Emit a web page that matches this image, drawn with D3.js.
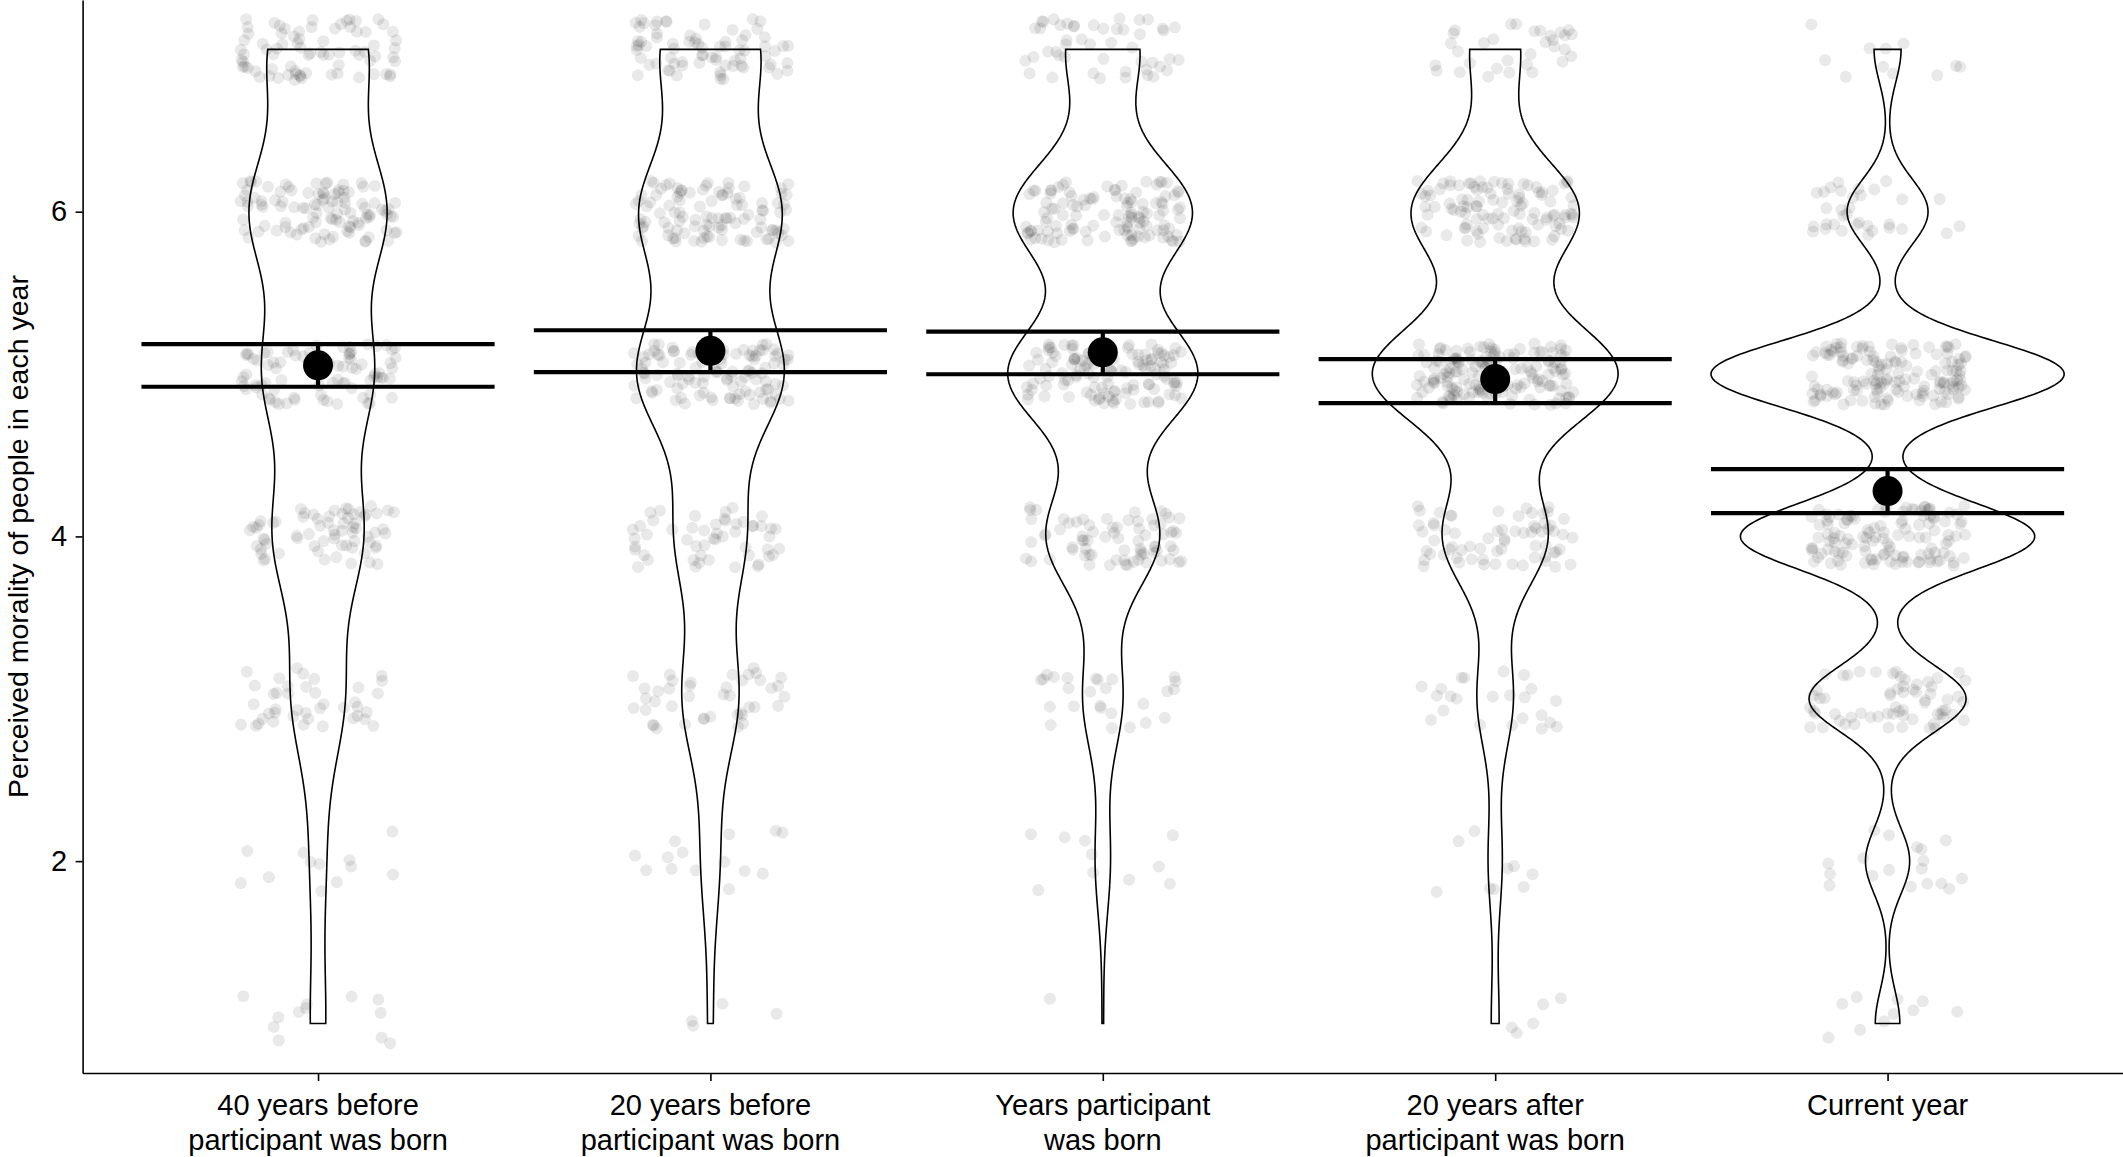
<!DOCTYPE html>
<html>
<head>
<meta charset="utf-8">
<script src="https://cdn.jsdelivr.net/npm/d3@7"></script>
<style>
  body { margin: 0; background: #fff; }
  svg { display: block; font-family: "Liberation Sans", Arial, Helvetica, sans-serif; }
</style>
</head>
<body>
<div id="chart"></div>
<script>
// x categories (label lines as printed under the axis)
var categories = ["40 years before", "20 years before", "Years participant", "20 years after", "Current year"];
var categoryLines = [
    ["40 years before", "participant was born"],
    ["20 years before", "participant was born"],
    ["Years participant", "was born"],
    ["20 years after", "participant was born"],
    ["Current year"]
];

var levels = [1, 2, 3, 4, 5, 6, 7];
var counts40Before = [12, 12, 41, 69, 84, 105, 77];
var counts20Before = [4, 14, 42, 52, 109, 105, 74];
var countsBorn     = [1, 10, 26, 74, 124, 117, 48];
var counts20After  = [5, 9, 23, 67, 157, 107, 32];
var countsCurrent  = [10, 18, 64, 120, 144, 33, 11];

// mean and interval drawn on top of each violin
var means  = [5.054, 5.143, 5.134, 4.969, 4.279];
var ciLow  = [4.922, 5.012, 4.999, 4.821, 4.143];
var ciHigh = [5.185, 5.270, 5.262, 5.092, 4.414];

var yTicks = [2, 4, 6];
var yTitle = "Perceived morality of people in each year";

var allCounts = [counts40Before, counts20Before, countsBorn, counts20After, countsCurrent];

var width = 2123, height = 1157;
var left = 82.6, bottom = 1073;

var svg = d3.select("#chart").append("svg")
    .attr("width", width)
    .attr("height", height);

var x = d3.scalePoint()
    .domain(categories)
    .range([left, width])
    .padding(0.6);
var step = x.step();

var y = d3.scaleLinear()
    .domain([0.695, 7.304])
    .range([bottom, 0]);

// expand counts back to single answers
function expand(counts) {
    var out = [];
    for (var i in counts) {
        for (var j = 0; j < counts[i]; j++) {
            out.push(levels[i]);
        }
    }
    return out;
}

// R bw.nrd0
function bwNrd0(values) {
    var sd = d3.deviation(values);
    var iqr = d3.quantile(values, 0.75) - d3.quantile(values, 0.25);
    var lo = Math.min(sd, iqr / 1.34);
    return 0.9 * lo * Math.pow(values.length, -0.2);
}

// gaussian kde on the data range (trimmed, like geom_violin)
function violinDensity(counts) {
    var values = expand(counts);
    var h = bwNrd0(values);
    var n = values.length;
    var lo = d3.min(values), hi = d3.max(values);
    var pts = [];
    for (var i = 0; i < 512; i++) {
        var v = lo + (hi - lo) * i / 511;
        var s = 0;
        for (var k in counts) {
            var z = (v - levels[k]) / h;
            s += counts[k] * Math.exp(-0.5 * z * z);
        }
        pts.push({v: v, d: s / (n * h * Math.sqrt(2 * Math.PI))});
    }
    return pts;
}

var densities = allCounts.map(violinDensity);
var maxDens = d3.max(densities, function(p){ return d3.max(p, function(d){ return d.d; }); });

// jittered answers (fixed seed so the dots stay put)
var rnd = d3.randomLcg(0.4217);
var jitterPts = [];
allCounts.forEach(function(counts, g){
    var vals = expand(counts);
    vals.forEach(function(v){
        jitterPts.push({
            cx: x(categories[g]) + (rnd() * 2 - 1) * 0.2 * step,
            v: v + (rnd() * 2 - 1) * 0.19
        });
    });
});

svg.append("g")
    .selectAll("circle")
    .data(jitterPts)
    .enter()
    .append("circle")
    .attr("cx", function(d){ return d.cx; })
    .attr("cy", function(d){ return y(d.v); })
    .attr("r", 5.8)
    .attr("fill", "#000")
    .attr("fill-opacity", 0.085)
    .attr("stroke", "#000")
    .attr("stroke-opacity", 0.04)
    .attr("stroke-width", 0.8);

// violins
var halfW = function(d){ return d.d / maxDens * 0.45 * step; };
densities.forEach(function(pts, g){
    var cx = x(categories[g]);
    var right = pts.map(function(d){ return [cx + halfW(d), y(d.v)]; });
    var leftSide = pts.slice().reverse().map(function(d){ return [cx - halfW(d), y(d.v)]; });
    svg.append("path")
        .attr("d", d3.line()(right.concat(leftSide)) + "Z")
        .attr("fill", "none")
        .attr("stroke", "#000")
        .attr("stroke-width", 1.6);
});

// error bars + means
var eb = svg.append("g");
categories.forEach(function(c, g){
    var cx = x(c), hw = 0.45 * step;
    eb.append("line")
        .attr("x1", cx - hw).attr("x2", cx + hw)
        .attr("y1", y(ciHigh[g])).attr("y2", y(ciHigh[g]));
    eb.append("line")
        .attr("x1", cx - hw).attr("x2", cx + hw)
        .attr("y1", y(ciLow[g])).attr("y2", y(ciLow[g]));
    eb.append("line")
        .attr("x1", cx).attr("x2", cx)
        .attr("y1", y(ciHigh[g])).attr("y2", y(ciLow[g]));
});
eb.selectAll("line")
    .attr("stroke", "#000")
    .attr("stroke-width", 4.2);

svg.append("g")
    .selectAll("circle")
    .data(means)
    .enter()
    .append("circle")
    .attr("cx", function(d, i){ return x(categories[i]); })
    .attr("cy", function(d){ return y(d); })
    .attr("r", 15)
    .attr("fill", "#000");

// axes
var yAxis = svg.append("g")
    .attr("transform", "translate(" + left + ",0)")
    .call(d3.axisLeft(y).tickValues(yTicks).tickSize(7).tickSizeOuter(0).tickPadding(8.5).tickFormat(d3.format("d")));
var xAxis = svg.append("g")
    .attr("transform", "translate(0," + bottom + ")")
    .call(d3.axisBottom(x).tickSize(8).tickSizeOuter(0).tickFormat(""));

svg.selectAll(".domain, .tick line")
    .attr("stroke", "#000")
    .attr("stroke-width", 1.6);
yAxis.selectAll("text")
    .attr("font-size", 29)
    .attr("font-family", "Liberation Sans, Arial, sans-serif")
    .attr("fill", "#000");

var xl = svg.append("g")
    .selectAll("text")
    .data(categoryLines)
    .enter()
    .append("text")
    .attr("text-anchor", "middle")
    .attr("font-size", 29)
    .attr("fill", "#000")
    .attr("transform", function(d, i){ return "translate(" + x(categories[i]) + "," + (bottom + 42) + ")"; });
xl.selectAll("tspan")
    .data(function(d){ return d; })
    .enter()
    .append("tspan")
    .attr("x", 0)
    .attr("y", function(d, i){ return i * 35; })
    .text(function(d){ return d; });

svg.append("text")
    .attr("transform", "translate(27.5," + (bottom / 2) + ") rotate(-90)")
    .attr("text-anchor", "middle")
    .attr("font-size", 28.5)
    .attr("fill", "#000")
    .text(yTitle);
</script>
</body>
</html>
